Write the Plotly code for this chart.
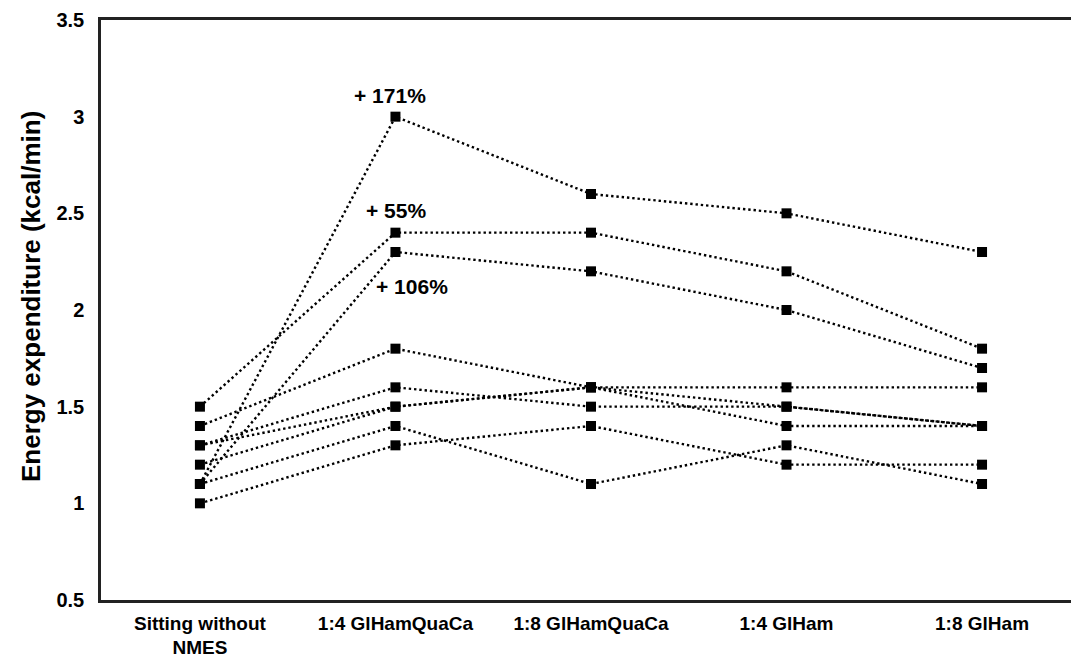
import plotly.graph_objects as go

categories = ["Sitting without<br>NMES", "1:4 GlHamQuaCa", "1:8 GlHamQuaCa", "1:4 GlHam", "1:8 GlHam"]

subject_1 = [1.1, 3.0, 2.6, 2.5, 2.3]
subject_2 = [1.5, 2.4, 2.4, 2.2, 1.8]
subject_3 = [1.1, 2.3, 2.2, 2.0, 1.7]
subject_4 = [1.4, 1.8, 1.6, 1.6, 1.6]
subject_5 = [1.3, 1.6, 1.5, 1.5, 1.4]
subject_6 = [1.3, 1.5, 1.6, 1.5, 1.4]
subject_7 = [1.2, 1.5, 1.6, 1.4, 1.4]
subject_8 = [1.1, 1.4, 1.1, 1.3, 1.1]
subject_9 = [1.0, 1.3, 1.4, 1.2, 1.2]

subjects = [subject_1, subject_2, subject_3, subject_4, subject_5,
            subject_6, subject_7, subject_8, subject_9]

annotation_texts = ["+ 171%", "+ 55%", "+ 106%"]

y_ticks = [0.5, 1, 1.5, 2, 2.5, 3, 3.5]
y_tick_text = ["0.5", "1", "1.5", "2", "2.5", "3", "3.5"]

y_title = "Energy expenditure (kcal/min)"

FONT = "Liberation Sans, Arial"

fig = go.Figure()
for vals in subjects:
    fig.add_trace(go.Scatter(
        x=categories, y=vals, mode="lines+markers",
        line=dict(color="#000000", width=2.4, dash="2.4px,2.9px"),
        marker=dict(symbol="square", size=10, color="#000000"),
        showlegend=False, hoverinfo="skip",
    ))

ann_pos = [(0.972, 3.112), (1.003, 2.517), (1.084, 2.119)]
for txt, (ax, ay) in zip(annotation_texts, ann_pos):
    fig.add_annotation(x=ax, y=ay, xref="x", yref="y", text="<b>" + txt + "</b>",
                       showarrow=False, font=dict(family=FONT, size=21, color="#000"))

# y-axis title as rotated text (sits slightly above the axis centre in the reference)
fig.add_annotation(x=-70 / 970, y=(600 - 297) / 580,
                   xref="paper", yref="paper", text="<b>" + y_title + "</b>",
                   textangle=-90, showarrow=False, xanchor="center", yanchor="middle",
                   font=dict(family=FONT, size=26, color="#000"))

fig.update_layout(
    width=1071, height=659,
    margin=dict(l=101, r=0, t=20, b=59),
    paper_bgcolor="white", plot_bgcolor="white",
    font=dict(family=FONT, color="#000"),
    xaxis=dict(
        type="category", range=[-0.506, 4.455],
        showgrid=False, zeroline=False, automargin=False,
        showline=True, mirror=True, linecolor="#222", linewidth=2.5,
        ticks="", tickfont=dict(size=19, family=FONT, weight="bold"),
        ticklabelstandoff=4,
    ),
    yaxis=dict(
        range=[0.5, 3.5], tickvals=y_ticks, ticktext=y_tick_text,
        showgrid=False, zeroline=False, automargin=False,
        showline=True, mirror=False, linecolor="#222", linewidth=2.5,
        ticks="", tickfont=dict(size=20, family=FONT, weight="bold"),
        ticklabelstandoff=10,
    ),
)

fig.write_html("out.html", config={"displayModeBar": False},
               post_script="document.body.style.margin='0';document.body.style.overflow='hidden';")
